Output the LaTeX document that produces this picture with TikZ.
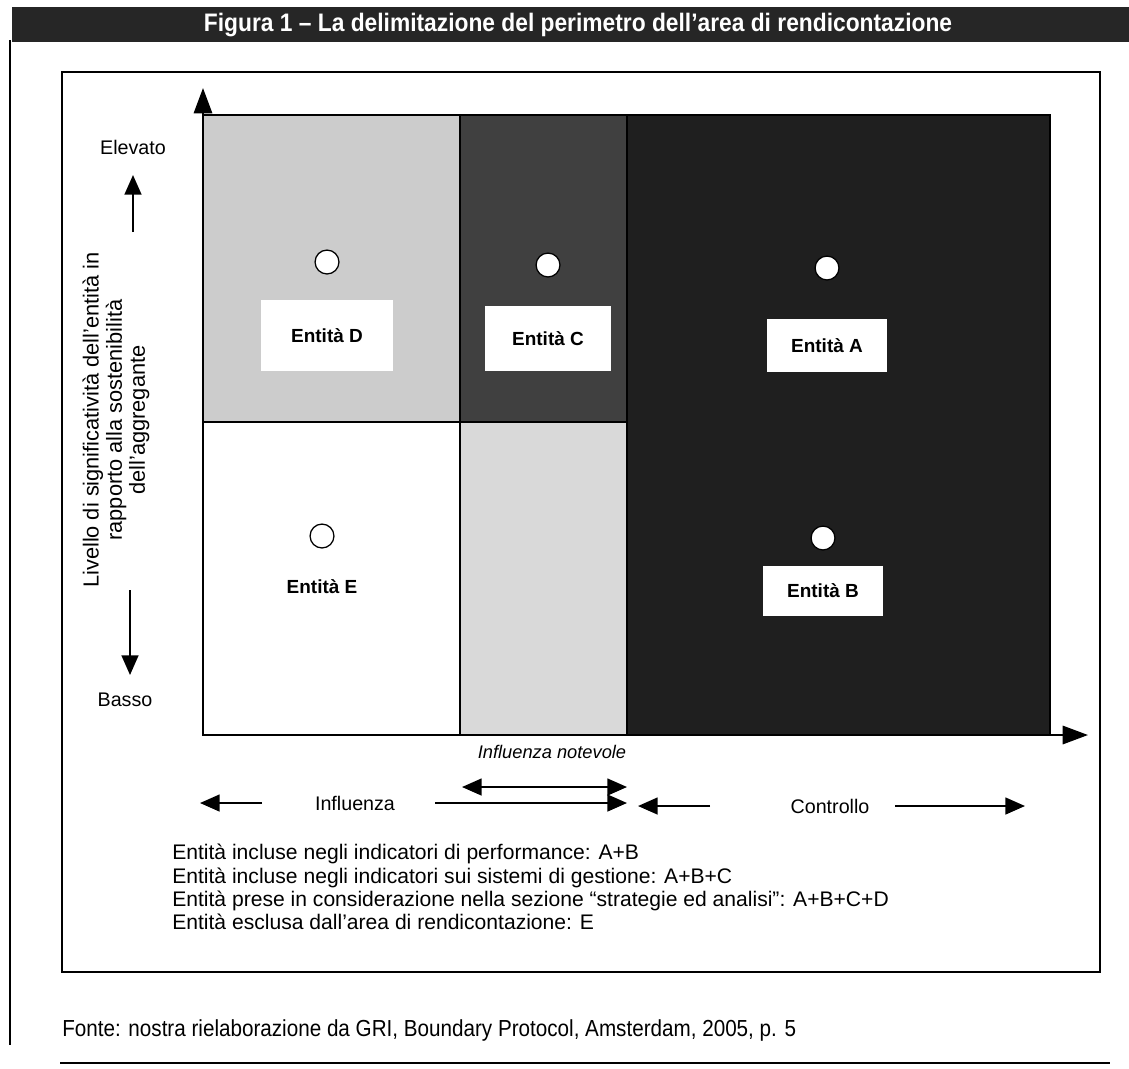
\documentclass[tikz,border=0pt]{standalone}
\usepackage{fontspec}
\setmainfont{Liberation Sans}
\usetikzlibrary{positioning, arrows.meta}

\begin{document}
\begin{tikzpicture}[x=0.025cm, y=-0.025cm,
	>={Triangle[length=14pt, width=12pt]},
	every node/.style={font=\fontsize{14}{16.3}\selectfont},
	region/.style={draw, line width=0.8pt},
	dot/.style={circle, draw, fill=white, minimum size=17pt, inner sep=0pt, line width=0.9pt},
	entity/.style={fill=white, inner sep=0pt, font=\fontsize{13.5}{16}\selectfont\bfseries},
	arr/.style={line width=1.4pt, ->},
	axis/.style={line width=1.6pt, -{Triangle[length=18pt, width=13pt]}}]

	\useasboundingbox (0,0) rectangle (1129,1068);

	\fill[black!85] (12,7) rectangle (1129,42);
	\node[text=white, font=\fontsize{18}{20}\selectfont\bfseries] (title) at (578,25) {\scalebox{0.9}[1]{Figura 1 -- La delimitazione del perimetro dell'area di rendicontazione}};

	\draw[line width=1pt] (10,40) -- (10,1045);
	\draw[line width=1pt] (60,1063) -- (1110,1063);
	\draw[line width=1.2pt] (62,72) rectangle (1100,972);

	\filldraw[region, fill=black!20] (203,115) rectangle (460,422);
	\filldraw[region, fill=black!75] (460,115) rectangle (627,422);
	\filldraw[region, fill=black!88] (627,115) rectangle (1050,735);
	\filldraw[region, fill=white] (203,422) rectangle (460,735);
	\filldraw[region, fill=black!15] (460,422) rectangle (627,735);

	\coordinate (origin) at (203,735);
	\coordinate (ytop) at (203,88);
	\coordinate (xend) at (1088,735);
	\path[axis] (origin) edge (ytop) (origin) edge (xend);

	\node[dot] (dotD) at (327,262) {};
	\node[dot] (dotC) at (548,265) {};
	\node[dot] (dotA) at (827,268) {};
	\node[dot] (dotE) at (322,536) {};
	\node[dot] (dotB) at (823,538) {};

	\node[entity, minimum width=94pt, minimum height=50pt, below=18pt of dotD] (entD) {Entità D};
	\node[entity, minimum width=89pt, minimum height=46pt, below=20pt of dotC] (entC) {Entità C};
	\node[entity, minimum width=86pt, minimum height=38pt, below=27pt of dotA] (entA) {Entità A};
	\node[entity, minimum width=86pt, minimum height=35pt, below=11pt of dotB] (entB) {Entità B};
	\node[entity, minimum width=80pt, minimum height=30pt, below=12pt of dotE] (entE) {Entità E};

	\node (elevato) at (133,147) {Elevato};
	\node (basso) at (125,700) {Basso};
	\node[rotate=90, align=center, font=\fontsize{15.5}{16.5}\selectfont] (ylabel) at (116,420) {Livello di significatività dell'entità in\\rapporto alla sostenibilità\\dell'aggregante};

	\coordinate (upFrom) at (133,232);
	\coordinate (upTo) at (133,175);
	\coordinate (downFrom) at (130,590);
	\coordinate (downTo) at (130,675);

	\node[font=\fontsize{13}{16}\selectfont\itshape] (notevole) at (552,752) {Influenza notevole};
	\node (influenza) at (355,803) {Influenza};
	\node (controllo) at (830,806) {Controllo};

	\coordinate (notL) at (462,787);
	\coordinate (notR) at (627,787);
	\coordinate (inflFrom) at (262,803);
	\coordinate (inflTip) at (200,803);
	\coordinate (inflFrom2) at (435,803);
	\coordinate (inflTip2) at (627,803);
	\coordinate (ctrlFrom) at (710,806);
	\coordinate (ctrlTip) at (638,806);
	\coordinate (ctrlFrom2) at (895,806);
	\coordinate (ctrlTip2) at (1025,806);

	\path[arr]
		(upFrom) edge (upTo)
		(downFrom) edge (downTo)
		(notL) edge[<->] (notR)
		(inflFrom) edge (inflTip)
		(inflFrom2) edge (inflTip2)
		(ctrlFrom) edge (ctrlTip)
		(ctrlFrom2) edge (ctrlTip2)
		;

	\node[anchor=north west, align=left, inner sep=0pt, font=\fontsize{15}{16.5}\selectfont] (legend) at (172,844) {Entità incluse negli indicatori di performance: A+B\\Entità incluse negli indicatori sui sistemi di gestione: A+B+C\\Entità prese in considerazione nella sezione ``strategie ed analisi'': A+B+C+D\\Entità esclusa dall'area di rendicontazione: E};

	\node[anchor=west, inner sep=0pt, font=\fontsize{16.5}{18}\selectfont] (fonte) at (62,1030) {\scalebox{0.89}[1]{Fonte: nostra rielaborazione da GRI, Boundary Protocol, Amsterdam, 2005, p. 5}};
\end{tikzpicture}
\end{document}
